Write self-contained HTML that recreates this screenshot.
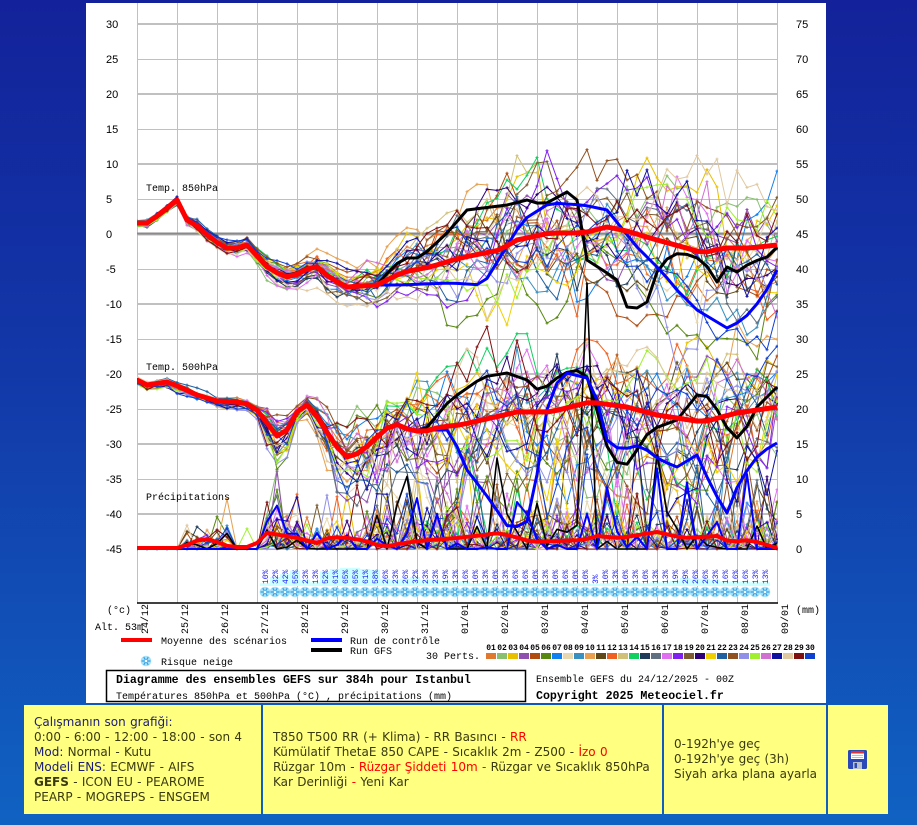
<!DOCTYPE html>
<html><head><meta charset="utf-8">
<style>
html,body{margin:0;padding:0;}
body{width:917px;height:825px;overflow:hidden;position:relative;background:linear-gradient(180deg,#13229a 0%,#1238a8 45%,#1062c2 100%);}
#panel{position:absolute;left:86px;top:3px;width:740px;height:700px;background:#fff;}
svg{position:absolute;left:0;top:0;}
.cell{position:absolute;top:705px;height:109px;background:#ffff80;display:flex;align-items:center;font-family:"DejaVu Sans",Verdana,sans-serif;font-size:12px;line-height:15px;color:#3a3a10;box-sizing:border-box;padding-left:10px;white-space:nowrap;word-spacing:0.5px;}
.nv{color:#1c1c78}
.r{color:#ff0000}
.t{font-family:"Liberation Sans",sans-serif;font-size:11px;fill:#000;}
.m{font-family:"Liberation Mono",monospace;font-size:10px;fill:#000;}
.mb{font-family:"Liberation Mono",monospace;font-size:11.6px;font-weight:bold;fill:#000;}
.p{font-family:"Liberation Mono",monospace;font-size:8px;fill:#1a1aff;}
.n{font-family:"Liberation Mono",monospace;font-size:8px;font-weight:bold;fill:#000;}
</style></head>
<body>
<div id="panel"></div>
<svg width="917" height="825" viewBox="0 0 917 825">
<defs id="D">
<clipPath id="cp"><rect x="137" y="3" width="641" height="600"/></clipPath>
<symbol id="flake" viewBox="-6 -6 12 12" overflow="visible">
<circle r="5.3" fill="#a8e2f8"/>
<path d="M-4.5 0H4.5M-2.25 -3.9L2.25 3.9M-2.25 3.9L2.25 -3.9" stroke="#3aa0e0" stroke-width="1.2"/>
<circle r="1.2" fill="#ffffff"/>
</symbol>
</defs>
<!-- grid -->
<g stroke="#c0c0c0" stroke-width="1">
<path d="M137.5 3V603M177.5 3V603M217.5 3V603M257.5 3V603M297.5 3V603M337.5 3V603M377.5 3V603M417.5 3V603M457.5 3V603M497.5 3V603M537.5 3V603M577.5 3V603M617.5 3V603M657.5 3V603M697.5 3V603M737.5 3V603M777.5 3V603"/>
<path d="M137 59.5H778M137 129.5H778M137 199.5H778M137 269.5H778M137 339.5H778M137 409.5H778M137 479.5H778M137 549.5H778"/>
<path stroke-width="2" d="M137 24H778M137 94H778M137 164H778M137 304H778M137 374H778M137 444H778M137 514H778"/>
</g>
<path d="M137 233.5H778" stroke="#8a8a8a" stroke-width="2"/>
<path d="M137 235H778" stroke="#b8b8b8" stroke-width="1"/>
<g id="B"></g>
<g id="S" clip-path="url(#cp)"></g>
<path d="M137 603H778" stroke="#000" stroke-width="1.6"/>
<!-- left ticks -->
<g class="t">
<text x="106" y="28">30</text><text x="106" y="63">25</text><text x="106" y="98">20</text><text x="106" y="133">15</text>
<text x="106" y="168">10</text><text x="106" y="203">5</text><text x="106" y="238">0</text><text x="106" y="273">-5</text>
<text x="106" y="308">-10</text><text x="106" y="343">-15</text><text x="106" y="378">-20</text><text x="106" y="413">-25</text>
<text x="106" y="448">-30</text><text x="106" y="483">-35</text><text x="106" y="518">-40</text><text x="106" y="553">-45</text>
</g>
<g class="t">
<text x="796" y="28">75</text><text x="796" y="63">70</text><text x="796" y="98">65</text><text x="796" y="133">60</text>
<text x="796" y="168">55</text><text x="796" y="203">50</text><text x="796" y="238">45</text><text x="796" y="273">40</text>
<text x="796" y="308">35</text><text x="796" y="343">30</text><text x="796" y="378">25</text><text x="796" y="413">20</text>
<text x="796" y="448">15</text><text x="796" y="483">10</text><text x="796" y="518">5</text><text x="796" y="553">0</text>
</g>
<g class="m">
<text x="146" y="191">Temp. 850hPa</text>
<text x="146" y="370">Temp. 500hPa</text>
<text x="146" y="500">Précipitations</text>
<text x="107" y="613">(°c)</text>
<text x="95" y="630">Alt. 53m</text>
<text x="796" y="613">(mm)</text>
</g>
<!-- dates -->
<g class="m" transform="rotate(-90)">
<text x="-634" y="148">24/12</text><text x="-634" y="188">25/12</text><text x="-634" y="228">26/12</text><text x="-634" y="268">27/12</text>
<text x="-634" y="308">28/12</text><text x="-634" y="348">29/12</text><text x="-634" y="388">30/12</text><text x="-634" y="428">31/12</text>
<text x="-634" y="468">01/01</text><text x="-634" y="508">02/01</text><text x="-634" y="548">03/01</text><text x="-634" y="588">04/01</text>
<text x="-634" y="628">05/01</text><text x="-634" y="668">06/01</text><text x="-634" y="708">07/01</text><text x="-634" y="748">08/01</text>
<text x="-634" y="788">09/01</text>
</g>
<!-- snow percentages -->
<g class="p" transform="rotate(-90)">
<text x="-584" y="268">10%</text><text x="-584" y="278">32%</text><text x="-584" y="288">42%</text><text x="-584" y="298">55%</text>
<text x="-584" y="308">23%</text><text x="-584" y="318">13%</text><text x="-584" y="328">52%</text><text x="-584" y="338">61%</text>
<text x="-584" y="348">65%</text><text x="-584" y="358">65%</text><text x="-584" y="368">61%</text><text x="-584" y="378">58%</text>
<text x="-584" y="388">26%</text><text x="-584" y="398">23%</text><text x="-584" y="408">26%</text><text x="-584" y="418">32%</text>
<text x="-584" y="428">23%</text><text x="-584" y="438">23%</text><text x="-584" y="448">19%</text><text x="-584" y="458">13%</text>
<text x="-584" y="468">16%</text><text x="-584" y="478">10%</text><text x="-584" y="488">13%</text><text x="-584" y="498">10%</text>
<text x="-584" y="508">13%</text><text x="-584" y="518">16%</text><text x="-584" y="528">16%</text><text x="-584" y="538">10%</text>
<text x="-584" y="548">13%</text><text x="-584" y="558">10%</text><text x="-584" y="568">16%</text><text x="-584" y="578">10%</text>
<text x="-584" y="588">10%</text><text x="-584" y="598">3%</text><text x="-584" y="608">10%</text><text x="-584" y="618">13%</text>
<text x="-584" y="628">10%</text><text x="-584" y="638">13%</text><text x="-584" y="648">10%</text><text x="-584" y="658">13%</text>
<text x="-584" y="668">13%</text><text x="-584" y="678">19%</text><text x="-584" y="688">29%</text><text x="-584" y="698">26%</text>
<text x="-584" y="708">26%</text><text x="-584" y="718">23%</text><text x="-584" y="728">16%</text><text x="-584" y="738">16%</text>
<text x="-584" y="748">16%</text><text x="-584" y="758">13%</text><text x="-584" y="768">13%</text>
</g>
<!-- legend -->
<path d="M121 640H152" stroke="#ff0000" stroke-width="4"/>
<path d="M311 640H342" stroke="#0000ff" stroke-width="4"/>
<path d="M311 650H342" stroke="#000" stroke-width="4"/>
<use href="#flake" x="140" y="655" width="12" height="12"/>
<g class="m">
<text x="161" y="644">Moyenne des scénarios</text>
<text x="350" y="644">Run de contrôle</text>
<text x="350" y="654">Run GFS</text>
<text x="426" y="659">30 Perts.</text>
<text x="161" y="665">Risque neige</text>
</g>
<g class="n" text-anchor="middle">
<text x="491" y="650">01</text><text x="502" y="650">02</text><text x="513" y="650">03</text><text x="524" y="650">04</text><text x="535" y="650">05</text>
<text x="546" y="650">06</text><text x="557" y="650">07</text><text x="568" y="650">08</text><text x="579" y="650">09</text><text x="590" y="650">10</text>
<text x="601" y="650">11</text><text x="612" y="650">12</text><text x="623" y="650">13</text><text x="634" y="650">14</text><text x="645" y="650">15</text>
<text x="656" y="650">16</text><text x="667" y="650">17</text><text x="678" y="650">18</text><text x="689" y="650">19</text><text x="700" y="650">20</text>
<text x="711" y="650">21</text><text x="722" y="650">22</text><text x="733" y="650">23</text><text x="744" y="650">24</text><text x="755" y="650">25</text>
<text x="766" y="650">26</text><text x="777" y="650">27</text><text x="788" y="650">28</text><text x="799" y="650">29</text><text x="810" y="650">30</text>
</g>
<g id="L"></g>
<!-- title box -->
<rect x="106.5" y="670.5" width="419" height="31" fill="#fff" stroke="#000" stroke-width="1.5"/>
<text class="mb" x="116" y="683">Diagramme des ensembles GEFS sur 384h pour Istanbul</text>
<text class="m" x="116" y="699">Températures 850hPa et 500hPa (°C) , précipitations (mm)</text>
<text class="m" x="536" y="682">Ensemble GEFS du 24/12/2025 - 00Z</text>
<text class="mb" x="536" y="699">Copyright 2025 Meteociel.fr</text>
</svg>

<div class="cell" style="left:24px;width:237px;">
<div><span class="nv">Çalışmanın son grafiği:</span><br>0:00 - 6:00 - 12:00 - 18:00 - son 4<br><span class="nv">Mod:</span> Normal - Kutu<br><span class="nv">Modeli ENS:</span> ECMWF - AIFS<br><b>GEFS</b> - ICON EU - PEAROME<br>PEARP - MOGREPS - ENSGEM</div>
</div>
<div class="cell" style="left:263px;width:399px;">
<div>T850 T500 RR (+ Klima) - RR Basıncı - <span class="r">RR</span><br>Kümülatif ThetaE 850 CAPE - Sıcaklık 2m - Z500 - <span class="r">İzo 0</span><br>Rüzgar 10m - <span class="r">Rüzgar Şiddeti 10m -</span> Rüzgar ve Sıcaklık 850hPa<br>Kar Derinliği <span class="r">-</span> Yeni Kar</div>
</div>
<div class="cell" style="left:664px;width:162px;">
<div>0-192h'ye geç<br>0-192h'ye geç (3h)<br>Siyah arka plana ayarla</div>
</div>
<div class="cell" style="left:828px;width:60px;"></div>
<svg width="917" height="825" viewBox="0 0 917 825" style="pointer-events:none">
<g transform="translate(848,750)">
<rect x="0" y="0" width="19" height="19" rx="1.5" fill="#2a48b8"/>
<rect x="3" y="1" width="13" height="8" fill="#ffffff"/>
<rect x="3" y="1" width="13" height="2.5" fill="#e03030"/>
<path d="M4 5.5H15M4 7.5H15" stroke="#9aa8d8" stroke-width="0.8"/>
<rect x="5" y="12" width="9" height="7" fill="#b8c0d0"/>
<rect x="6.5" y="13" width="2.5" height="5" fill="#2a48b8"/>
</g>
</svg>

<script>
(function(){
var NS="http://www.w3.org/2000/svg";
var S=document.getElementById("S"),D=document.getElementById("D"),B=document.getElementById("B"),L=document.getElementById("L");
var C=["#e07830","#88c070","#e8c000","#9050b0","#b04c10","#588810","#1080f0","#e8d8b0","#3890c0","#e8a050","#604818","#f06020","#d0c078","#10d060","#203c58","#607080","#e070f0","#8020f0","#7c5c30","#300078","#f0d000","#2060a0","#905020","#9090e8","#a0f030","#d070d0","#1010a0","#e0c8a0","#801010","#1040d0"];
var N=65;
function X(i){return 137+10*i;}
function lin(p,x){if(x<=p[0][0])return p[0][1];for(var k=1;k<p.length;k++){if(x<=p[k][0]){var a=p[k-1],b=p[k];return a[1]+(b[1]-a[1])*(x-a[0])/(b[0]-a[0]);}}return p[p.length-1][1];}
var sd=20251224;
function R(){sd|=0;sd=sd+0x6D2B79F5|0;var t=Math.imul(sd^sd>>>15,1|sd);t=t+Math.imul(t^t>>>7,61|t)^t;return((t^t>>>14)>>>0)/4294967296;}
function G(){var u=R()||1e-9,v=R();return Math.sqrt(-2*Math.log(u))*Math.cos(6.283185*v);}
function ar(a){var n=[],v=G();for(var i=0;i<N;i++){if(i>0)v=a*v+Math.sqrt(1-a*a)*G();n.push(v);}return n;}
function el(t,at,par){var e=document.createElementNS(NS,t);for(var k in at)e.setAttribute(k,at[k]);(par||S).appendChild(e);return e;}

var M850=[[137,223],[147,223],[157,216],[167,208],[177,200],[187,220],[197,226],[213,240],[230,250],[247,245],[270,270],[290,278],[315,265],[330,278],[347,287],[377,285],[403,272],[430,267],[460,258],[500,250],[517,240],[550,233],[583,233],[607,227],[623,230],[657,240],[683,247],[703,253],[723,248],[750,248],[777,245]];
var S850=[[137,1.5],[177,2],[217,4],[257,5],[297,7],[337,9],[377,11],[417,16],[457,24],[517,32],[777,38]];
var M500=[[137,380],[147,385],[167,382],[180,387],[197,395],[217,401],[237,402],[253,405],[267,423],[277,436],[287,430],[297,412],[307,405],[320,420],[333,443],[347,457],[360,453],[377,437],[393,423],[410,430],[423,432],[440,427],[460,425],[517,412],[550,412],[590,402],[627,407],[657,415],[703,422],[737,413],[777,407]];
var S500=[[137,2],[257,3],[267,9],[277,13],[287,10],[297,6],[307,7],[320,14],[337,22],[360,26],[377,24],[400,30],[450,36],[777,40]];
var MP=[[137,548],[177,548],[187,545],[203,538],[217,542],[230,547],[253,547],[267,533],[280,535],[297,538],[317,543],[330,537],[347,538],[363,540],[383,547],[410,542],[430,540],[457,538],[500,533],[533,542],[583,540],[597,536],[620,538],[657,532],[683,538],[717,536],[730,542],[750,540],[777,548]];
var C850=M850.filter(function(p){return p[0]<400;}).concat([[400,285],[450,283],[483,285],[523,220],[550,203],[583,205],[607,210],[637,247],[663,273],[677,290],[697,310],[727,328],[743,320],[763,297],[777,270]]);
var G850=M850.filter(function(p){return p[0]<390;}).concat([[390,270],[403,258],[420,258],[447,233],[467,210],[507,205],[527,200],[543,205],[567,192],[577,200],[587,260],[607,273],[617,280],[627,307],[637,308],[647,302],[660,263],[680,252],[703,260],[717,282],[727,267],[737,272],[750,263],[767,257],[777,247]]);
var C500=M500.filter(function(p){return p[0]<410;}).concat([[410,430],[450,430],[467,470],[490,500],[510,530],[530,520],[550,390],[567,373],[587,378],[597,400],[607,440],[620,450],[640,445],[660,460],[677,467],[697,455],[713,490],[727,513],[740,480],[760,453],[777,443]]);
var G500=M500.filter(function(p){return p[0]<440;}).concat([[450,400],[483,377],[507,373],[527,380],[540,392],[563,373],[580,370],[590,380],[603,437],[613,460],[625,467],[637,450],[650,430],[677,420],[697,395],[710,397],[730,433],[740,440],[757,407],[777,387]]);

function pts(f){var a=[];for(var i=0;i<N;i++){a.push(X(i)+","+f(i).toFixed(1));}return a.join(" ");}
function line(p,col,w,mk){var at={points:p,fill:"none",stroke:col,"stroke-width":w,"stroke-linejoin":"round"};if(mk){at["marker-start"]="url(#"+mk+")";at["marker-mid"]="url(#"+mk+")";at["marker-end"]="url(#"+mk+")";}el("polyline",at);}
function mkr(id,col){var m=el("marker",{id:id,markerWidth:"4",markerHeight:"4",refX:"2",refY:"2",markerUnits:"userSpaceOnUse",overflow:"visible"},D);el("path",{d:"M0.5 2H3.5M2 0.5V3.5",stroke:col,"stroke-width":"1"},m);}
function precip(){var a=[];for(var i=0;i<N;i++){var x=X(i),p=0,sc=0;if(x<187){p=0;}else if(x<=227){p=.55;sc=1.2;}else if(x<=257){p=.1;sc=.4;}else if(x<=297){p=.8;sc=2.2;}else if(x<=357){p=.45;sc=1.8;}else{p=.55;sc=3.0;}var v=0;if(R()<p){v=-sc*Math.log(R()||1e-6);if(v>16)v=16;}a.push(v);}return a;}

/* snow bars & flakes */
var pct=[10,32,42,55,23,13,52,61,65,65,61,58,26,23,26,32,23,23,19,13,16,10,13,10,13,16,16,10,13,10,16,10,10,3,10,13,10,13,10,13,13,19,29,26,26,23,16,16,16,13,13];
for(var k=0;k<pct.length;k++){var h=Math.max(2,pct[k]*0.28);el("rect",{x:260+10*k,y:586-h,width:10,height:h,fill:"#ccffff"},B);}
for(var k=0;k<pct.length;k++){el("use",{href:"#flake",x:259+10*k,y:586,width:12,height:12},B);}
/* pert boxes */
for(var k=0;k<30;k++){el("rect",{x:486+11*k,y:653,width:10,height:6,fill:C[k]},L);}

/* members */
for(var k=0;k<30;k++){
 mkr("m"+k,C[k]);
 var n1=ar(.85),n2=ar(.8),pr=precip();
 (function(n1,n2,pr,k){
  line(pts(function(i){var x=X(i);return Math.max(8,lin(M850,x)+lin(S850,x)*n1[i]);}),C[k],1,"m"+k);
  line(pts(function(i){var x=X(i),n=n2[i];return Math.min(546,lin(M500,x)+lin(S500,x)*(n>0?1.3*n:.85*n));}),C[k],1,"m"+k);
  line(pts(function(i){return 549-7*pr[i];}),C[k],1,"m"+k);
 })(n1,n2,pr,k);
}
/* GFS */
var gp=precip();gp[43]=2.4;gp[44]=3.4;gp[45]=38;gp[46]=0;gp[37]=5;gp[40]=6.5;
line(pts(function(i){return lin(G850,X(i));}),"#000",3);
line(pts(function(i){return lin(G500,X(i));}),"#000",3);
line(pts(function(i){return 549-7*gp[i];}),"#000",1.6);
/* control */
var cp=precip();cp[52]=11.5;cp[55]=9.5;
line(pts(function(i){return lin(C850,X(i));}),"#0000ff",3);
line(pts(function(i){return lin(C500,X(i));}),"#0000ff",3);
line(pts(function(i){return 549-7*cp[i];}),"#0000ff",2);
/* mean */
line(pts(function(i){return lin(M850,X(i));}),"#ff0000",5);
line(pts(function(i){return lin(M500,X(i));}),"#ff0000",5);
line(pts(function(i){return lin(MP,X(i));}),"#ff0000",4);
})();
</script>
</body></html>
